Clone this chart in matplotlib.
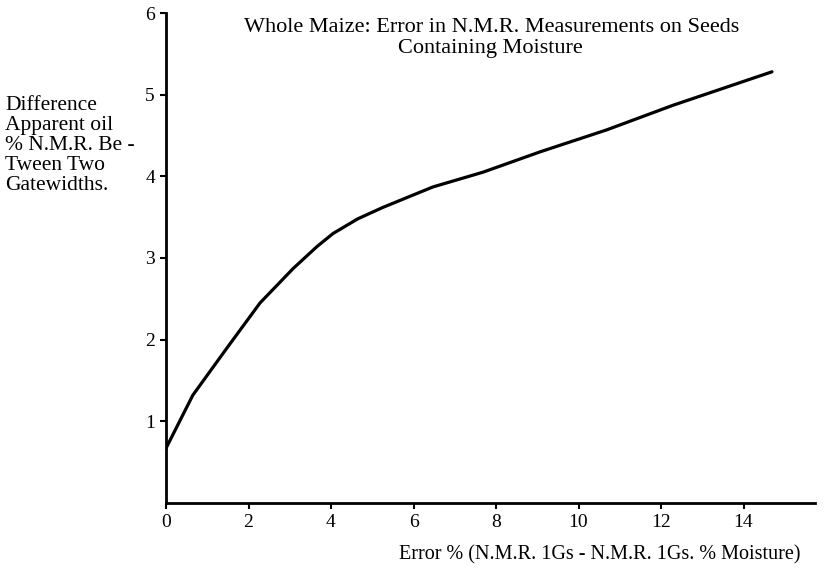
import matplotlib
matplotlib.use("Agg")
import matplotlib.pyplot as plt

x_err = [0, 0.65, 1.48, 2.28, 3.08, 3.66, 4.05, 4.65, 5.26, 6.47, 7.68, 9.07, 10.69, 12.29, 14.69]
y_diff = [0.67, 1.32, 1.9, 2.45, 2.87, 3.14, 3.30, 3.48, 3.62, 3.87, 4.05, 4.30, 4.57, 4.87, 5.28]
x_ticks = [0, 2, 4, 6, 8, 10, 12, 14]
y_ticks = [1, 2, 3, 4, 5, 6]
title_lines = ["Whole Maize: Error in N.M.R. Measurements on Seeds", "Containing Moisture"]
ylabel_lines = ["Difference", "Apparent oil", "% N.M.R. Be -", "Tween Two", "Gatewidths."]
xlabel = "Error % (N.M.R. 1Gs - N.M.R. 1Gs. % Moisture)"

plt.rcParams['font.family'] = ['Liberation Serif', 'DejaVu Serif']

fig = plt.figure(figsize=(8.24, 5.71), dpi=100)
ax = fig.add_axes([166/824, 68/571, (815-166)/824, (503-13)/571])
ax.plot(x_err, y_diff, color='black', lw=2.3, solid_capstyle='round', solid_joinstyle='round')
ax.set_xlim(0, (815-166)/41.25)
ax.set_ylim(0, 490/81.7)
ax.set_xticks(x_ticks)
ax.set_yticks(y_ticks)
ax.spines['top'].set_visible(False)
ax.spines['right'].set_visible(False)
ax.spines['left'].set_linewidth(2)
ax.spines['bottom'].set_linewidth(2)
ax.tick_params(axis='both', labelsize=14, width=1.5, length=4, direction='out', pad=4)

W, H = 824, 571
fig.text(492/W, 1 - 27/H, title_lines[0], ha='center', va='center', fontsize=16)
fig.text(490/W, 1 - 48/H, title_lines[1], ha='center', va='center', fontsize=16)
for i, line in enumerate(ylabel_lines):
    fig.text(5/W, 1 - (106 + i*19.8)/H, line, ha='left', va='center', fontsize=15.5)
fig.text(600/W, 1 - 555/H, xlabel, ha='center', va='center', fontsize=14.5)

fig.savefig("out.png", dpi=100)
